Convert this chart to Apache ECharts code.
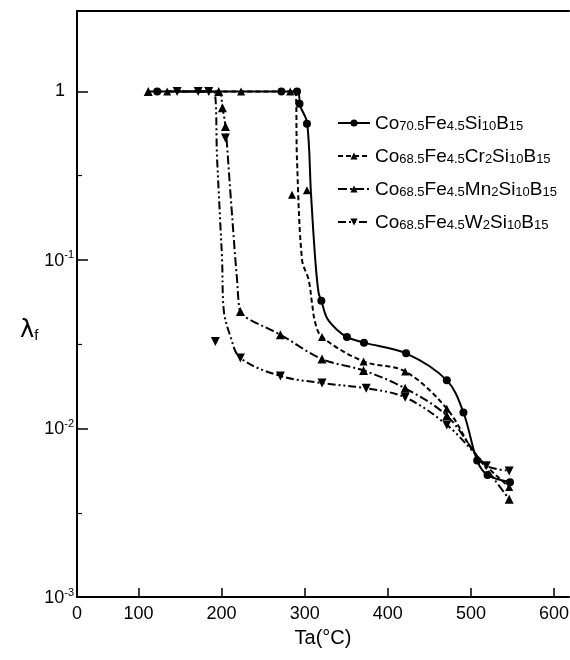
<!DOCTYPE html>
<html>
<head>
<meta charset="utf-8">
<script src="https://cdn.jsdelivr.net/npm/echarts@6/dist/echarts.min.js"></script>
<style>
  html, body { margin: 0; padding: 0; background: #fff; }
  #chart { width: 570px; height: 660px; }
</style>
</head>
<body>
<div id="chart"></div>
<script>
// 坐标轴
const X_MIN = 26;   // 原图 x 轴起点（标为 0）
const X_MAX = 618;
const xTickValues = [100, 200, 300, 400, 500, 600];
const Y_MIN = 0.001;
const Y_MAX = 3;
const yTickValues = [0.001, 0.01, 0.1, 1];
const yTickExps = [-3, -2, -1, 0];
const yMinorTicks = [0.00316, 0.0316, 0.316];

const seriesNames = [
  'Co70.5Fe4.5Si10B15',
  'Co68.5Fe4.5Cr2Si10B15',
  'Co68.5Fe4.5Mn2Si10B15',
  'Co68.5Fe4.5W2Si10B15'
];

// 曲线走向
const siCurve = [[122.5,1],[291,1],[294.7,0.818],[302.8,0.654],[307.5,0.25],[312.7,0.1004],[316.7,0.0637],[320,0.0573],[326.8,0.0452],[338.8,0.0385],[350.8,0.0349],[371.3,0.0323],[422,0.0279],[471,0.0193],[491,0.01244],[507.5,0.00645],[520,0.0053],[547,0.0048]];
const crCurve = [[134.5,1],[288.7,1],[290.7,0.394],[296.8,0.1],[304.7,0.0764],[308.8,0.0555],[312.7,0.0423],[320.8,0.0349],[370.8,0.025],[420.8,0.0218],[471,0.0131],[506,0.007],[546,0.0045]];
const mnCurve = [[111.7,1],[196.5,1],[201,0.8],[204.6,0.62],[210.6,0.25],[216.6,0.1],[218.6,0.0764],[220.6,0.0555],[222.6,0.0495],[230.6,0.0452],[270.7,0.036],[320.8,0.0258],[370.8,0.0221],[420.8,0.0173],[471,0.0119],[506,0.007],[546,0.0038]];
const wCurve = [[146.5,1],[190.5,1],[194.6,0.394],[198.6,0.158],[200.6,0.1],[202.5,0.0507],[210.6,0.0352],[222.6,0.0262],[270.7,0.0205],[320.8,0.0186],[374,0.0173],[420.8,0.0153],[471,0.0105],[506,0.007],[518.5,0.006],[546,0.0056]];

// 实测点
const siPoints = [[122.5,1],[271.9,1],[290.7,1],[293.7,0.845],[302.7,0.643],[320,0.0573],[350.8,0.0349],[371.3,0.0323],[422,0.0279],[471,0.0193],[491,0.01244],[507.5,0.00645],[520,0.0053],[547,0.0048]];
const crPoints = [[134.5,1],[223.4,1],[282.5,1],[284.7,0.244],[302.7,0.259],[320.8,0.0349],[370.8,0.025],[420.8,0.0218],[471,0.0131],[546,0.0045]];
const mnPoints = [[111.7,1],[196.5,1],[201,0.8],[204.6,0.62],[222.6,0.0495],[270.7,0.036],[320.8,0.0258],[370.8,0.0221],[420.8,0.0173],[471,0.0119],[546,0.0038]];
const wPoints = [[146.5,1],[171.8,1],[184.5,1],[204.6,0.53],[192.5,0.0328],[222.6,0.0262],[270.7,0.0205],[320.8,0.0186],[374,0.0173],[420.8,0.0153],[471,0.0105],[518.5,0.006],[546,0.0056]];

const FONT = 'Liberation Sans, Arial, sans-serif';

const groups = [
  { curve: siCurve, points: siPoints, symbol: 'circle', size: 8, rotate: 0, dash: 'solid' },
  { curve: crCurve, points: crPoints, symbol: 'triangle', size: 8, rotate: 0, dash: [5, 3] },
  { curve: mnCurve, points: mnPoints, symbol: 'triangle', size: 9, rotate: 0, dash: [9, 3, 2, 3] },
  { curve: wCurve, points: wPoints, symbol: 'triangle', size: 9, rotate: 180, dash: [8, 3, 2, 3, 2, 3] }
];

const series = [];
groups.forEach((g, i) => {
  series.push({
    name: seriesNames[i],
    type: 'line',
    data: g.curve,
    symbol: g.symbol,
    symbolSize: g.size,
    symbolRotate: g.rotate,
    showSymbol: false,
    smooth: 0.35,
    color: '#000',
    lineStyle: { color: '#000', width: 2, type: g.dash },
    z: 2
  });
});
groups.forEach((g, i) => {
  series.push({
    name: seriesNames[i],
    type: 'scatter',
    data: g.points,
    symbol: g.symbol,
    symbolSize: g.size,
    symbolRotate: g.rotate,
    itemStyle: { color: '#000', opacity: 1 },
    z: 3
  });
});

function subName(name) {
  return name.replace(/([A-Za-z]+)([\d.]+)/g, '{n|$1}{s|$2}');
}

const chart = echarts.init(document.getElementById('chart'), null, { renderer: 'canvas' });

chart.setOption({
  animation: false,
  backgroundColor: '#fff',
  grid: { left: 77, right: 1, top: 11, bottom: 63, containLabel: false, outerBoundsMode: 'none' },
  legend: {
    data: seriesNames,
    orient: 'vertical',
    left: 332,
    top: 109,
    itemGap: 14,
    itemWidth: 32,
    itemHeight: 9,
    formatter: subName,
    textStyle: {
      color: '#000',
      rich: {
        n: { fontFamily: FONT, fontSize: 19, lineHeight: 20, verticalAlign: 'bottom', color: '#000' },
        s: { fontFamily: FONT, fontSize: 13, lineHeight: 13, verticalAlign: 'bottom', color: '#000' }
      }
    }
  },
  xAxis: [{
    type: 'value',
    min: X_MIN,
    max: X_MAX,
    name: 'Ta(°C)',
    nameLocation: 'middle',
    nameGap: 31,
    nameTextStyle: { fontFamily: FONT, fontSize: 20, color: '#000' },
    axisLine: { show: true, onZero: false, lineStyle: { color: '#000', width: 2 } },
    axisTick: { show: true, inside: true, length: 9, customValues: xTickValues, lineStyle: { color: '#000', width: 1.5 } },
    axisLabel: {
      customValues: [X_MIN].concat(xTickValues),
      formatter: v => (v === X_MIN ? '0' : String(v)),
      fontFamily: FONT, fontSize: 18, color: '#000', margin: 8
    },
    splitLine: { show: false }
  }, {
    type: 'value',
    position: 'top',
    min: X_MIN,
    max: X_MAX,
    axisLine: { show: true, onZero: false, lineStyle: { color: '#000', width: 2 } },
    axisTick: { show: false },
    axisLabel: { show: false },
    splitLine: { show: false }
  }],
  yAxis: [{
    type: 'log',
    logBase: 10,
    min: Y_MIN,
    max: Y_MAX,
    name: '{l|λ}{f|f}',
    nameLocation: 'middle',
    nameGap: 34,
    nameRotate: 0,
    nameTextStyle: {
      padding: [52, 0, 0, 0],
      rich: {
        l: { fontFamily: 'DejaVu Sans, sans-serif', fontSize: 24, color: '#000', verticalAlign: 'bottom', lineHeight: 26 },
        f: { fontFamily: FONT, fontSize: 15, color: '#000', verticalAlign: 'bottom', lineHeight: 20 }
      }
    },
    axisLine: { show: true, onZero: false, lineStyle: { color: '#000', width: 2 } },
    axisTick: { show: true, inside: true, length: 11, customValues: yTickValues, lineStyle: { color: '#000', width: 1.5 } },
    axisLabel: {
      customValues: yTickValues,
      margin: 3,
      formatter: v => {
        const e = yTickExps[yTickValues.findIndex(t => Math.abs(t - v) < v * 1e-6)];
        return e === 0 ? '{one|1}' : '{b|10}{e|' + e + '}';
      },
      rich: {
        one: { fontFamily: FONT, fontSize: 18, color: '#000', padding: [0, 9, 0, 0] },
        b: { fontFamily: FONT, fontSize: 18, color: '#000', lineHeight: 20, verticalAlign: 'bottom' },
        e: { fontFamily: FONT, fontSize: 11, color: '#000', lineHeight: 11, verticalAlign: 'top' }
      }
    },
    splitLine: { show: false }
  }, {
    type: 'log',
    logBase: 10,
    min: Y_MIN,
    max: Y_MAX,
    position: 'left',
    axisLine: { show: false },
    axisTick: { show: true, inside: true, length: 5, customValues: yMinorTicks, lineStyle: { color: '#000', width: 1.2 } },
    axisLabel: { show: false },
    splitLine: { show: false }
  }],
  series: series
});
</script>
</body>
</html>
